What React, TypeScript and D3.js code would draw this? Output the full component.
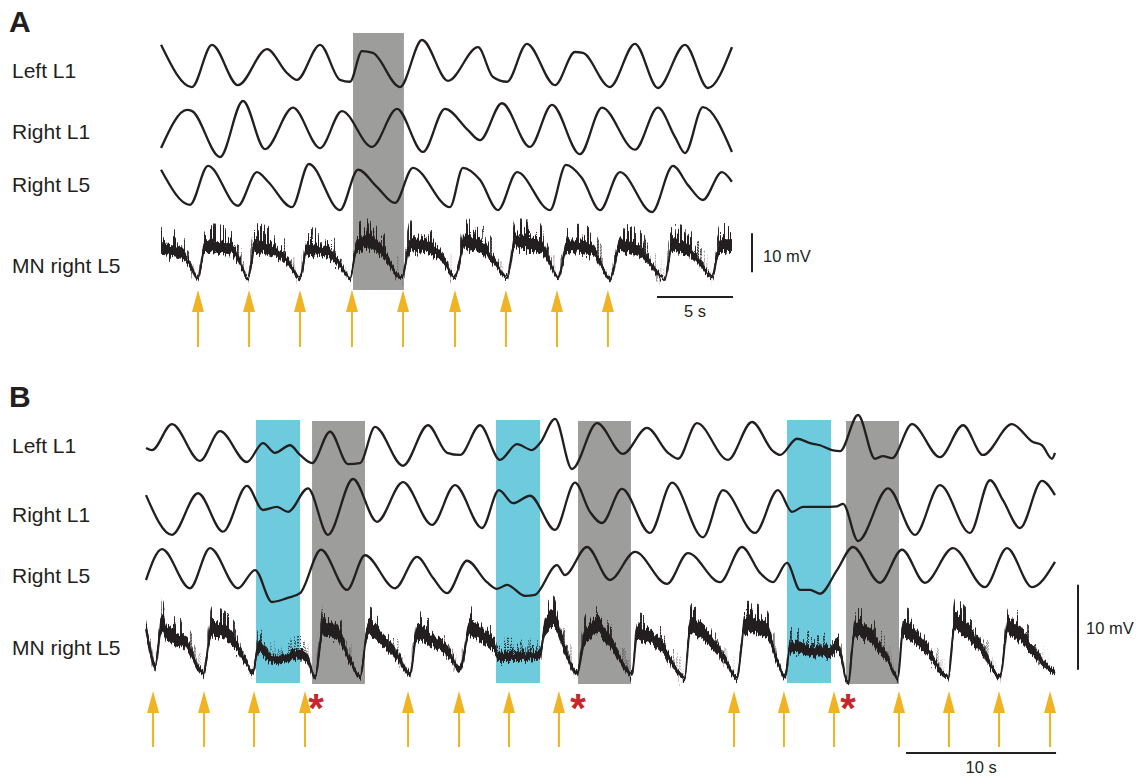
import React, { useEffect, useRef } from "react";
import * as d3 from "d3";

type Pt = [number, number];

// Panel A - time in s; ventral root traces normalised (trough 0, peak 1); MN in mV above trough
const aLeftL1: Pt[] = [[0.07,0.9],[2.1,0.02],[3.42,0.9],[5.13,0.06],[7.04,0.81],[8.36,0.31],[9.01,0.17],[10.53,0.9],[11.84,0.17],[12.5,0.13],[13.29,0.77],[14.01,0.73],[15.79,0.02],[17.24,1.0],[18.95,0.15],[20.92,0.85],[21.91,0.23],[22.83,0.13],[24.14,0.92],[25.99,0.06],[27.3,0.75],[27.83,0.73],[29.6,0.02],[31.25,0.92],[32.76,0.0],[34.54,0.9],[36.05,0.0],[37.63,0.85]];
const aRightL1: Pt[] = [[0.07,0.16],[1.78,0.84],[2.11,0.82],[3.95,0.0],[5.46,1.0],[6.91,0.14],[8.75,0.88],[10.53,0.16],[11.97,0.82],[13.95,0.18],[15.59,0.86],[17.3,0.09],[18.75,0.86],[20.26,0.48],[21.05,0.3],[22.5,0.96],[24.34,0.18],[25.79,0.93],[27.63,0.05],[29.08,0.88],[31.25,0.13],[32.76,0.88],[33.88,0.36],[34.54,0.07],[35.72,0.89],[37.63,0.09]];
const aRightL5: Pt[] = [[0.07,0.88],[1.97,0.15],[3.16,0.96],[5.13,0.13],[6.38,0.83],[7.11,0.63],[8.68,0.1],[9.8,1.0],[11.84,0.04],[13.03,0.88],[14.28,0.52],[15.46,0.19],[16.64,0.92],[19.08,0.1],[19.93,0.92],[21.05,0.67],[22.24,0.04],[23.49,0.83],[25.66,0.04],[26.71,0.98],[27.76,0.71],[28.95,0.04],[30.26,0.83],[32.37,0.0],[33.75,0.96],[34.74,0.56],[35.72,0.25],[36.97,0.83],[37.63,0.63]];
const aMN: Pt[] = [[0.07,7.7],[1.32,6.8],[1.97,3.8],[2.5,0.5],[2.96,8.5],[4.74,7.7],[5.26,4.6],[5.79,0.5],[6.25,8.5],[7.89,6.4],[8.55,3.8],[9.21,0.5],[9.67,7.7],[11.05,6.8],[11.84,3.8],[12.5,0.5],[12.96,8.5],[13.82,9.5],[14.67,6.8],[15.92,0.5],[16.45,9.0],[17.76,7.9],[18.55,5.6],[19.41,0.8],[20.07,9.5],[21.25,8.0],[22.04,4.4],[22.83,0.5],[23.36,9.5],[25.0,8.5],[25.66,4.4],[26.18,0.5],[26.78,8.5],[28.42,7.7],[28.95,4.4],[29.6,0.5],[30.26,8.5],[31.58,7.1],[32.43,3.3],[33.22,0.0],[33.68,8.5],[34.67,7.7],[35.53,4.4],[36.32,0.8],[36.84,8.5],[37.63,8.5]];
const aArrows = [2.5, 5.86, 9.21, 12.63, 15.99, 19.41, 22.76, 26.12, 29.47];
const aGrey: Pt[] = [[12.7, 16.05]];

// Panel B
const bLeftL1: Pt[] = [[0,0.39],[0.4,0.35],[1.73,0.83],[3.6,0.15],[4.93,0.7],[6.73,0.13],[7.8,0.48],[8.6,0.3],[9.6,0.44],[10.27,0.26],[11.07,0.11],[12.27,0.69],[13.47,0.09],[14.27,0.11],[15.27,0.78],[17.13,0.06],[18.8,0.81],[20.07,0.3],[20.93,0.26],[22.27,0.81],[23.6,0.17],[24.73,0.46],[25.73,0.35],[26.27,0.48],[27.27,0.93],[28.4,0.0],[30.07,0.85],[31.8,0.28],[33.4,0.76],[34.8,0.3],[35.47,0.19],[36.73,0.85],[38.8,0.17],[40.4,0.87],[41.8,0.33],[42.27,0.26],[43.4,0.56],[44.27,0.48],[44.93,0.44],[45.73,0.35],[46.27,0.33],[47.47,1.0],[48.6,0.19],[49.13,0.24],[49.73,0.2],[51.07,0.83],[52.93,0.22],[54.47,0.81],[55.8,0.26],[57.73,0.83],[59.13,0.5],[59.73,0.44],[60.4,0.19],[60.6,0.3]];
const bRightL1: Pt[] = [[0,0.74],[1.73,0.1],[3.47,0.77],[5.13,0.15],[6.73,0.89],[7.8,0.5],[8.73,0.55],[9.47,0.47],[10.8,0.85],[12.13,0.1],[13.8,1.0],[15.4,0.31],[17.13,0.95],[19.07,0.26],[20.6,0.9],[22.4,0.21],[23.53,0.82],[24.47,0.61],[25.6,0.73],[27.27,0.18],[28.6,0.94],[29.6,0.47],[30.4,0.29],[31.73,0.84],[33.6,0.13],[35.07,0.94],[37.13,0.06],[38.47,0.82],[40.6,0.13],[42.13,0.82],[43.07,0.47],[43.8,0.55],[45.13,0.55],[46.07,0.56],[46.47,0.6],[47.47,0.0],[49.47,0.85],[51.27,0.1],[52.93,0.9],[54.93,0.13],[56.27,0.98],[57.13,0.66],[58.27,0.21],[59.73,0.97],[60.6,0.74]];
const bRightL5: Pt[] = [[0,0.4],[1.07,0.96],[2.93,0.25],[4.27,0.98],[6.13,0.25],[7.27,0.58],[8.4,0.0],[9.4,0.07],[10.27,0.16],[11.67,0.95],[13.4,0.22],[14.6,0.85],[16.6,0.25],[18.07,0.82],[19.13,0.44],[20.07,0.16],[21.4,0.75],[22.73,0.36],[23.4,0.24],[24.07,0.31],[25.27,0.11],[25.93,0.13],[27.4,0.67],[27.93,0.49],[29.4,1.0],[30.93,0.4],[32.6,0.91],[34.73,0.33],[36.13,0.89],[38.27,0.36],[39.73,1.0],[40.93,0.53],[41.8,0.36],[42.73,0.71],[43.6,0.22],[44.27,0.22],[44.93,0.15],[46.07,0.58],[47.13,1.0],[48.93,0.35],[50.4,0.95],[51.93,0.35],[53.8,0.98],[55.93,0.27],[57.4,0.98],[59.07,0.27],[60.6,0.73]];
const bMN: Pt[] = [[0,6.7],[0.27,4.1],[0.6,2.1],[1.07,7.3],[1.4,5.9],[2.6,5.0],[3.8,1.4],[4.4,6.5],[5.6,5.6],[6.6,2.9],[7.13,1.4],[7.47,4.4],[8.47,2.9],[10.27,3.5],[10.8,2.9],[11.27,0.9],[11.8,6.5],[12.6,6.2],[13.6,2.9],[14.27,0.9],[14.8,6.5],[15.8,5.2],[16.93,2.9],[17.6,1.2],[18.07,6.1],[18.93,5.2],[20.27,3.5],[20.93,1.8],[21.6,6.5],[22.73,5.3],[23.33,4.1],[23.4,3.3],[24.73,3.3],[26.27,3.5],[26.6,6.8],[27.13,7.6],[27.93,4.1],[28.73,1.4],[29.27,5.6],[30.07,6.8],[31.27,4.1],[32.4,1.2],[32.73,5.9],[34.27,4.6],[35.93,0.9],[36.27,6.8],[37.27,5.9],[38.6,2.9],[39.4,0.9],[39.93,7.1],[41.4,6.1],[42.07,2.9],[42.6,0.9],[42.93,4.4],[44.47,3.9],[45.6,3.8],[46.13,4.5],[46.8,0.2],[47.27,6.5],[48.27,5.6],[49.47,2.9],[50.13,0.8],[50.47,6.5],[51.93,4.4],[53.47,0.9],[53.93,7.3],[54.93,5.9],[55.93,3.5],[56.93,0.9],[57.47,6.8],[58.93,4.4],[60.07,2.1],[60.6,1.4]];
const bArrows = [0.47, 3.87, 7.2, 10.6, 17.47, 20.87, 24.2, 27.53, 39.2, 42.53, 45.87, 50.2, 53.53, 56.87, 60.27];
const bBlue: Pt[] = [[7.33, 10.27], [23.33, 26.27], [42.73, 45.67]];
const bGrey: Pt[] = [[11.07, 14.6], [28.8, 32.33], [46.67, 50.2]];
const bStars = [11.33, 28.8, 46.8];

const traceLabels = ["Left L1", "Right L1", "Right L5", "MN right L5"];

const INK = "#231F20";
const FONT = "'Liberation Sans', Arial, Helvetica, sans-serif";
const SPIKE_STEPS = [6, 12, 18, 24, 30, 36];

const panels = [
  {
    letter: "A", letterY: 32, xr: [160, 733], tMax: 37.7,
    traces: [aLeftL1, aRightL1, aRightL5], rows: [[88, 40], [157, 101], [212, 164]],
    labelY: [78, 139, 192, 273],
    mn: aMN, mnR: [280, 241], band: [0.45, 0.2], spk: 0.25,
    boxY: [33, 290], grey: aGrey, blue: [] as Pt[],
    arrows: aArrows, arrowY: [290, 312, 347], stars: [] as number[], starY: 0,
    vbar: { x: 752, base: 2, dx: 11, txtY: 262 }, hbar: { t0: 32.7, sec: 5, y: 297, txt: "5 s", txtY: 317 },
  },
  {
    letter: "B", letterY: 407, xr: [146, 1055], tMax: 60.6,
    traces: [bLeftL1, bRightL1, bRightL5], rows: [[469, 415], [541, 479], [602, 547]],
    labelY: [453, 522, 583, 655],
    mn: bMN, mnR: [685, 600], band: [0.22, 0.17], spk: 0.16,
    boxY: [420, 683], grey: bGrey, blue: bBlue,
    arrows: bArrows, arrowY: [691, 713, 747], stars: bStars, starY: 722,
    vbar: { x: 1078, base: 1.8, dx: 8, txtY: 634 }, hbar: { t0: 50.67, sec: 10, y: 753, txt: "10 s", txtY: 773 },
  },
];

// turbulence displacement filter: vertical jitter only
function noiseFilter(defs: any, id: string, type: string, freq: string, seed: number, gMul: number, gOff: number, scale: number) {
  const f = defs.append("filter").attr("id", id)
    .attr("filterUnits", "userSpaceOnUse").attr("x", 0).attr("y", 0)
    .attr("width", 1136).attr("height", 776)
    .attr("color-interpolation-filters", "sRGB");
  f.append("feTurbulence").attr("type", type)
    .attr("baseFrequency", freq).attr("numOctaves", 2).attr("seed", seed).attr("result", "t");
  f.append("feColorMatrix").attr("in", "t").attr("type", "matrix")
    .attr("values", `0 0 0 0 0.5  0 ${gMul} 0 0 ${gOff}  0 0 0 0 0  0 0 0 0 1`).attr("result", "m");
  f.append("feDisplacementMap").attr("in", "SourceGraphic").attr("in2", "m")
    .attr("scale", scale).attr("xChannelSelector", "R").attr("yChannelSelector", "G");
}

export default function App() {
  const ref = useRef<SVGSVGElement>(null);

  useEffect(() => {
    const svg = d3.select(ref.current);
    svg.selectAll("*").remove();

    const defs = svg.append("defs");
    // same noise field at growing scales -> connected upward spikes
    SPIKE_STEPS.forEach((s) => noiseFilter(defs, `spk${s}`, "turbulence", "0.3 0.008", 4, 1.9, 0.2, s));
    noiseFilter(defs, "band", "fractalNoise", "0.6 0.015", 7, 1.4, -0.2, 10);
    noiseFilter(defs, "jitter", "fractalNoise", "0.8 0.02", 11, 1.2, -0.1, 6);

    panels.forEach((p) => {
      const x = d3.scaleLinear().domain([0, p.tMax]).range(p.xr);
      const g = svg.append("g");

      // stimulation windows
      g.selectAll(".blue").data(p.blue).enter().append("rect")
        .attr("x", (d) => x(d[0])).attr("width", (d) => x(d[1]) - x(d[0]))
        .attr("y", p.boxY[0]).attr("height", p.boxY[1] - p.boxY[0])
        .attr("fill", "#6ECBDD");
      g.selectAll(".grey").data(p.grey).enter().append("rect")
        .attr("x", (d) => x(d[0])).attr("width", (d) => x(d[1]) - x(d[0]))
        .attr("y", p.boxY[0] + (p.blue.length ? 1 : 0)).attr("height", p.boxY[1] - p.boxY[0])
        .attr("fill", "#9D9D9C");

      // ventral root traces
      p.traces.forEach((tr, i) => {
        const y = d3.scaleLinear().domain([0, 1]).range(p.rows[i]);
        const line = d3.line<Pt>().x((d) => x(d[0])).y((d) => y(d[1])).curve(d3.curveMonotoneX);
        g.append("path").attr("d", line(tr)).attr("fill", "none")
          .attr("stroke", INK).attr("stroke-width", 2.3).attr("stroke-linejoin", "round");
      });

      // motoneuron trace: noisy band whose width follows depolarisation
      const my = d3.scaleLinear().domain([0, 10]).range(p.mnR);
      const hi = (v: number) => p.band[0] + p.band[1] * v;
      const area = d3.area<Pt>().x((d) => x(d[0]))
        .y0((d) => my(d[1] - 0.6 * hi(d[1])))
        .y1((d) => my(d[1] + 0.8 * hi(d[1])))
        .curve(d3.curveMonotoneX);
      g.append("path").attr("d", area(p.mn)).attr("fill", INK).attr("filter", "url(#band)");
      const spikeArea = d3.area<Pt>().x((d) => x(d[0]))
        .y0((d) => my(d[1]))
        .y1((d) => my(d[1] + p.spk * Math.max(0, d[1] - 2.5)))
        .curve(d3.curveMonotoneX);
      SPIKE_STEPS.forEach((s) => {
        g.append("path").attr("d", spikeArea(p.mn)).attr("fill", INK)
          .attr("opacity", 0.9).attr("filter", `url(#spk${s})`);
      });
      const mline = d3.line<Pt>().x((d) => x(d[0])).y((d) => my(d[1])).curve(d3.curveMonotoneX);
      g.append("path").attr("d", mline(p.mn)).attr("fill", "none")
        .attr("stroke", INK).attr("stroke-width", 2).attr("filter", "url(#jitter)");

      // labels
      g.append("text").text(p.letter).attr("x", 9).attr("y", p.letterY)
        .attr("font-family", FONT).attr("font-weight", "bold").attr("font-size", 30).attr("fill", INK);
      g.selectAll(".lab").data(traceLabels).enter().append("text")
        .text((d) => d).attr("x", 12).attr("y", (d, i) => p.labelY[i])
        .attr("font-family", FONT).attr("font-size", 21).attr("fill", INK);

      // arrows
      const [tip, base, bottom] = p.arrowY;
      const ag = g.selectAll(".arrow").data(p.arrows).enter().append("g");
      ag.append("rect").attr("x", (d) => x(d) - 1).attr("width", 2)
        .attr("y", base - 1).attr("height", bottom - base + 1).attr("fill", "#F0B323");
      ag.append("path").attr("fill", "#F0B323")
        .attr("d", (d) => `M${x(d)},${tip}L${x(d) + 6},${base}L${x(d) - 6},${base}Z`);

      g.selectAll(".star").data(p.stars).enter().append("text").text("*")
        .attr("x", (d) => x(d)).attr("y", p.starY).attr("text-anchor", "middle")
        .attr("font-family", FONT).attr("font-weight", "bold").attr("font-size", 40).attr("fill", "#C9262C");

      // scale bars
      g.append("line").attr("x1", p.vbar.x).attr("x2", p.vbar.x)
        .attr("y1", my(p.vbar.base)).attr("y2", my(p.vbar.base + 10))
        .attr("stroke", INK).attr("stroke-width", 2);
      g.append("text").text("10 mV").attr("x", p.vbar.x + p.vbar.dx).attr("y", p.vbar.txtY)
        .attr("font-family", FONT).attr("font-size", 16.5).attr("fill", INK);
      g.append("line").attr("x1", x(p.hbar.t0)).attr("x2", x(p.hbar.t0 + p.hbar.sec))
        .attr("y1", p.hbar.y).attr("y2", p.hbar.y).attr("stroke", INK).attr("stroke-width", 2);
      g.append("text").text(p.hbar.txt).attr("x", x(p.hbar.t0 + p.hbar.sec / 2)).attr("y", p.hbar.txtY)
        .attr("text-anchor", "middle").attr("font-family", FONT).attr("font-size", 16.5).attr("fill", INK);
    });
  }, []);

  return (
    <svg ref={ref} width={1136} height={776}
      style={{ position: "absolute", left: 0, top: 0, background: "#fff" }} />
  );
}
